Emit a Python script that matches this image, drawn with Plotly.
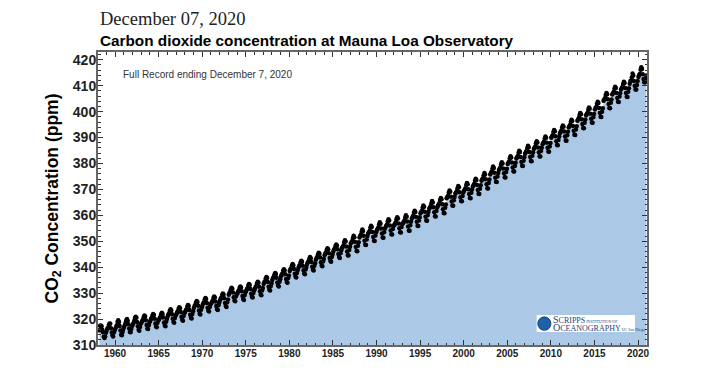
import plotly.graph_objects as go

# Monthly mean CO2 (ppm) at Mauna Loa, read/estimated from the chart
years = list(range(1958, 2021))
co2_monthly = [
    [None, None, 315.7, 317.4, 317.5, 317.2, 315.9, 314.9, 313.2, 312.7, 313.3, 314.7],  # 1958
    [315.6, 316.4, 316.7, 317.7, 318.3, 318.2, 316.5, 314.8, 313.8, 313.3, 314.8, 315.6],
    [316.4, 316.9, 317.6, 319.0, 319.5, 318.9, 317.3, 315.6, 314.0, 313.8, 315.0, 316.2],
    [316.9, 317.7, 318.5, 319.5, 320.0, 319.4, 318.0, 316.4, 315.0, 314.9, 316.2, 317.3],
    [317.9, 318.5, 319.4, 320.4, 320.9, 320.5, 318.9, 317.2, 315.9, 315.5, 316.9, 318.2],
    [318.7, 319.3, 319.8, 320.8, 321.4, 321.0, 319.5, 317.7, 316.4, 316.2, 317.6, 318.7],
    [319.3, 320.0, 320.4, 321.4, 322.0, 321.6, 320.1, 318.3, 317.1, 316.8, 318.6, 319.6],
    [319.7, 320.4, 320.8, 321.9, 322.4, 322.0, 320.6, 318.7, 317.5, 317.2, 319.0, 320.0],
    [321.1, 321.8, 322.2, 323.2, 323.8, 323.3, 321.9, 320.1, 318.9, 318.6, 320.4, 321.4],
    [321.9, 322.6, 323.0, 324.0, 324.6, 324.2, 322.7, 320.9, 319.7, 319.4, 321.2, 322.2],
    [322.7, 323.4, 323.8, 324.8, 325.4, 325.0, 323.5, 321.7, 320.5, 320.2, 322.0, 323.0],
    [324.3, 325.0, 325.4, 326.4, 327.0, 326.6, 325.1, 323.3, 322.1, 321.8, 323.6, 324.6],
    [325.4, 326.1, 326.5, 327.5, 328.1, 327.7, 326.2, 324.4, 323.2, 322.9, 324.7, 325.7],
    [326.0, 326.7, 327.1, 328.1, 328.7, 328.3, 326.8, 325.0, 323.8, 323.5, 325.3, 326.3],
    [327.2, 327.9, 328.3, 329.3, 329.9, 329.5, 328.0, 326.2, 325.0, 324.7, 326.5, 327.5],
    [329.4, 330.1, 330.5, 331.5, 332.1, 331.7, 330.2, 328.4, 327.2, 326.9, 328.7, 329.7],
    [329.9, 330.6, 331.0, 332.0, 332.6, 332.2, 330.7, 328.9, 327.7, 327.4, 329.2, 330.2],
    [330.8, 331.5, 331.9, 332.9, 333.5, 333.1, 331.6, 329.8, 328.6, 328.3, 330.1, 331.1],
    [331.7, 332.4, 332.8, 333.8, 334.4, 334.0, 332.5, 330.7, 329.5, 329.2, 331.0, 332.0],
    [333.5, 334.2, 334.6, 335.6, 336.2, 335.8, 334.3, 332.5, 331.3, 331.0, 332.8, 333.8],
    [335.1, 335.8, 336.2, 337.2, 337.8, 337.4, 335.9, 334.1, 332.9, 332.6, 334.4, 335.4],
    [336.5, 337.2, 337.6, 338.6, 339.2, 338.8, 337.3, 335.5, 334.3, 334.0, 335.8, 336.8],
    [338.5, 339.2, 339.6, 340.6, 341.2, 340.8, 339.3, 337.5, 336.3, 336.0, 337.8, 338.8],
    [339.8, 340.5, 340.9, 341.9, 342.5, 342.1, 340.6, 338.8, 337.6, 337.3, 339.1, 340.1],
    [341.2, 341.9, 342.3, 343.3, 343.9, 343.5, 342.0, 340.2, 339.0, 338.7, 340.5, 341.5],
    [342.9, 343.6, 344.0, 345.0, 345.6, 345.2, 343.7, 341.9, 340.7, 340.4, 342.2, 343.2],
    [344.6, 345.3, 345.7, 346.7, 347.3, 346.9, 345.4, 343.6, 342.4, 342.1, 343.9, 344.9],
    [346.1, 346.8, 347.2, 348.2, 348.8, 348.4, 346.9, 345.1, 343.9, 343.6, 345.4, 346.4],
    [347.4, 347.9, 348.4, 349.6, 350.4, 349.9, 348.0, 346.1, 344.6, 344.5, 346.6, 347.9],
    [349.1, 349.6, 350.1, 351.3, 352.1, 351.6, 349.7, 347.8, 346.3, 346.2, 348.3, 349.6],
    [351.5, 352.0, 352.5, 353.7, 354.5, 354.0, 352.1, 350.2, 348.7, 348.6, 350.7, 352.0],
    [353.0, 353.5, 354.0, 355.2, 356.0, 355.5, 353.6, 351.7, 350.2, 350.1, 352.2, 353.5],
    [354.3, 354.8, 355.3, 356.5, 357.3, 356.8, 354.9, 353.0, 351.5, 351.4, 353.5, 354.8],
    [355.5, 356.0, 356.5, 357.7, 358.5, 358.0, 356.1, 354.2, 352.7, 352.6, 354.7, 356.0],
    [356.3, 356.8, 357.3, 358.5, 359.3, 358.8, 356.9, 355.0, 353.5, 353.4, 355.5, 356.8],
    [357.0, 357.5, 358.0, 359.2, 360.0, 359.5, 357.6, 355.7, 354.2, 354.1, 356.2, 357.5],
    [358.8, 359.3, 359.8, 361.0, 361.8, 361.3, 359.4, 357.5, 356.0, 355.9, 358.0, 359.3],
    [360.8, 361.3, 361.8, 363.0, 363.8, 363.3, 361.4, 359.5, 358.0, 357.9, 360.0, 361.3],
    [362.5, 363.0, 363.5, 364.7, 365.5, 365.0, 363.1, 361.2, 359.7, 359.6, 361.7, 363.0],
    [363.7, 364.2, 364.7, 365.9, 366.7, 366.2, 364.3, 362.4, 360.9, 360.8, 362.9, 364.2],
    [366.6, 367.1, 367.6, 368.8, 369.6, 369.1, 367.2, 365.3, 363.8, 363.7, 365.8, 367.1],
    [368.3, 368.8, 369.3, 370.5, 371.3, 370.8, 368.9, 367.0, 365.5, 365.4, 367.5, 368.8],
    [369.5, 370.0, 370.5, 371.7, 372.5, 372.0, 370.1, 368.2, 366.7, 366.6, 368.7, 370.0],
    [371.1, 371.6, 372.1, 373.3, 374.1, 373.6, 371.7, 369.8, 368.3, 368.2, 370.3, 371.6],
    [373.3, 373.8, 374.3, 375.5, 376.3, 375.8, 373.9, 372.0, 370.5, 370.4, 372.5, 373.8],
    [375.8, 376.3, 376.8, 378.0, 378.8, 378.3, 376.4, 374.5, 373.0, 372.9, 375.0, 376.3],
    [377.5, 378.0, 378.5, 379.7, 380.5, 380.0, 378.1, 376.2, 374.7, 374.6, 376.7, 378.0],
    [379.8, 380.3, 380.8, 382.0, 382.8, 382.3, 380.4, 378.5, 377.0, 376.9, 379.0, 380.3],
    [381.9, 382.4, 382.9, 384.1, 384.9, 384.4, 382.5, 380.6, 379.1, 379.0, 381.1, 382.4],
    [383.8, 384.3, 384.8, 386.0, 386.8, 386.3, 384.4, 382.5, 381.0, 380.9, 383.0, 384.3],
    [385.6, 386.1, 386.6, 387.8, 388.6, 388.1, 386.2, 384.3, 382.8, 382.7, 384.8, 386.1],
    [387.4, 387.9, 388.4, 389.6, 390.4, 389.9, 388.0, 386.1, 384.6, 384.5, 386.6, 387.9],
    [389.9, 390.4, 390.9, 392.1, 392.9, 392.4, 390.5, 388.6, 387.1, 387.0, 389.1, 390.4],
    [391.7, 392.2, 392.7, 393.9, 394.7, 394.2, 392.3, 390.4, 388.9, 388.8, 390.9, 392.2],
    [393.9, 394.4, 394.9, 396.1, 396.9, 396.4, 394.5, 392.6, 391.1, 391.0, 393.1, 394.4],
    [396.5, 397.0, 397.5, 398.7, 399.5, 399.0, 397.1, 395.2, 393.7, 393.6, 395.7, 397.0],
    [398.6, 399.1, 399.6, 400.8, 401.6, 401.1, 399.2, 397.3, 395.8, 395.7, 397.8, 399.1],
    [400.8, 401.3, 401.8, 403.0, 403.8, 403.3, 401.4, 399.5, 398.0, 397.9, 400.0, 401.3],
    [404.2, 404.7, 405.2, 406.4, 407.2, 406.7, 404.8, 402.9, 401.4, 401.3, 403.4, 404.7],
    [406.6, 407.1, 407.6, 408.8, 409.6, 409.1, 407.2, 405.3, 403.8, 403.7, 405.8, 407.1],
    [408.5, 409.0, 409.5, 410.7, 411.5, 411.0, 409.1, 407.2, 405.7, 405.6, 407.7, 409.0],
    [410.8, 411.8, 412.0, 413.3, 414.7, 413.9, 411.8, 410.0, 408.5, 408.5, 410.3, 411.8],
    [413.4, 414.1, 414.5, 416.2, 417.1, 416.4, 414.4, 412.6, 411.3, 411.3, 412.9, 413.9],  # 2020
]

x_tick_vals = [1960, 1965, 1970, 1975, 1980, 1985, 1990, 1995, 2000, 2005, 2010, 2015, 2020]
y_tick_vals = [310, 320, 330, 340, 350, 360, 370, 380, 390, 400, 410, 420]

title_date = "December 07, 2020"
title_main = "Carbon dioxide concentration at Mauna Loa Observatory"
subtitle = "Full Record ending December 7, 2020"

# Build decimal-year time axis from year/month
t, v = [], []
for yr, row in zip(years, co2_monthly):
    for m, val in enumerate(row):
        if val is None:
            continue
        t.append(yr + (m + 0.5) / 12.0)
        v.append(val)

fig = go.Figure()
fig.add_trace(go.Scatter(
    x=t, y=v, mode="lines", fill="tozeroy",
    fillcolor="#abc8e6", line=dict(width=0, color="#abc8e6"),
    hoverinfo="skip", showlegend=False,
))
fig.add_trace(go.Scatter(
    x=t, y=v, mode="markers",
    marker=dict(color="black", size=4.5, line=dict(width=0)),
    showlegend=False,
))

axis_font = dict(family="Liberation Sans, Arial, sans-serif", color="#222", weight="bold")

fig.update_layout(
    width=720, height=374,
    margin=dict(l=90, r=81, t=44, b=37),
    paper_bgcolor="white", plot_bgcolor="white",
    xaxis=dict(
        range=[1958.05, 2021.03], tickvals=x_tick_vals,
        ticks="inside", ticklen=5, tickwidth=1.2, tickcolor="#333",
        showline=True, linecolor="#666", linewidth=2, mirror="ticks",
        showgrid=False, zeroline=False,
        tickfont=dict(size=10, **axis_font), ticklabelstandoff=-2,
        minor=dict(dtick=1, ticks="inside", ticklen=2.5, tickwidth=1, tickcolor="#333", showgrid=False),
    ),
    yaxis=dict(
        range=[310, 423], tickvals=y_tick_vals,
        ticks="inside", ticklen=5, tickwidth=1.2, tickcolor="#333",
        showline=True, linecolor="#666", linewidth=2, mirror="ticks",
        showgrid=False, zeroline=False,
        tickfont=dict(size=14, **axis_font), ticklabelstandoff=-3,
        minor=dict(dtick=2, ticks="inside", ticklen=2.5, tickwidth=1, tickcolor="#333", showgrid=False),
        title=dict(text="<b>CO<sub>2</sub> Concentration (ppm)</b>",
                   font=dict(size=17.5, family="Liberation Sans, Arial, sans-serif", color="black"),
                   standoff=10),
    ),
    font=dict(family="Liberation Sans, Arial, sans-serif"),
)

fig.add_annotation(
    text=title_date, xref="paper", yref="paper", x=0.0, y=1.0, yshift=33,
    xanchor="left", yanchor="middle", showarrow=False,
    font=dict(family="Liberation Serif, Times New Roman, serif", size=18.5, color="#222"),
)
fig.add_annotation(
    text="<b>" + title_main + "</b>", xref="paper", yref="paper", x=0.0, y=1.0, yshift=12,
    xanchor="left", yanchor="middle", showarrow=False,
    font=dict(family="Liberation Sans, Arial, sans-serif", size=15.3, color="black"),
)
fig.add_annotation(
    text=subtitle, xref="paper", yref="paper", x=0.042, y=1.0, yshift=-22,
    xanchor="left", yanchor="middle", showarrow=False,
    font=dict(family="Liberation Sans, Arial, sans-serif", size=10, color="#333"),
)

# Scripps Institution of Oceanography logo (decorative)
fig.add_shape(type="rect", xref="paper", yref="paper",
              x0=0.799, x1=0.978, y0=0.044, y1=0.102,
              fillcolor="white", line=dict(width=0), layer="above")
fig.add_shape(type="circle", xref="paper", yref="paper",
              x0=0.801, x1=0.825, y0=0.050, y1=0.096,
              fillcolor="#1d62a8", line=dict(width=0.8, color="#0a2f6b"), layer="above")
logo_text = ("<span style='font-size:10px'>S</span><span style='font-size:8px'>CRIPPS</span>"
             "<span style='font-size:4px'> INSTITUTION OF</span><br>"
             "<span style='font-size:10px'>O</span><span style='font-size:8px'>CEANOGRAPHY</span>"
             "<span style='font-size:4px'> UC San Diego</span>")
fig.add_annotation(text=logo_text, xref="paper", yref="paper",
                   x=0.826, y=0.073, xanchor="left", yanchor="middle", showarrow=False,
                   align="left",
                   font=dict(family="Liberation Serif, serif", size=6.2, color="#1e3f7a"))

fig.write_html("out.html")
